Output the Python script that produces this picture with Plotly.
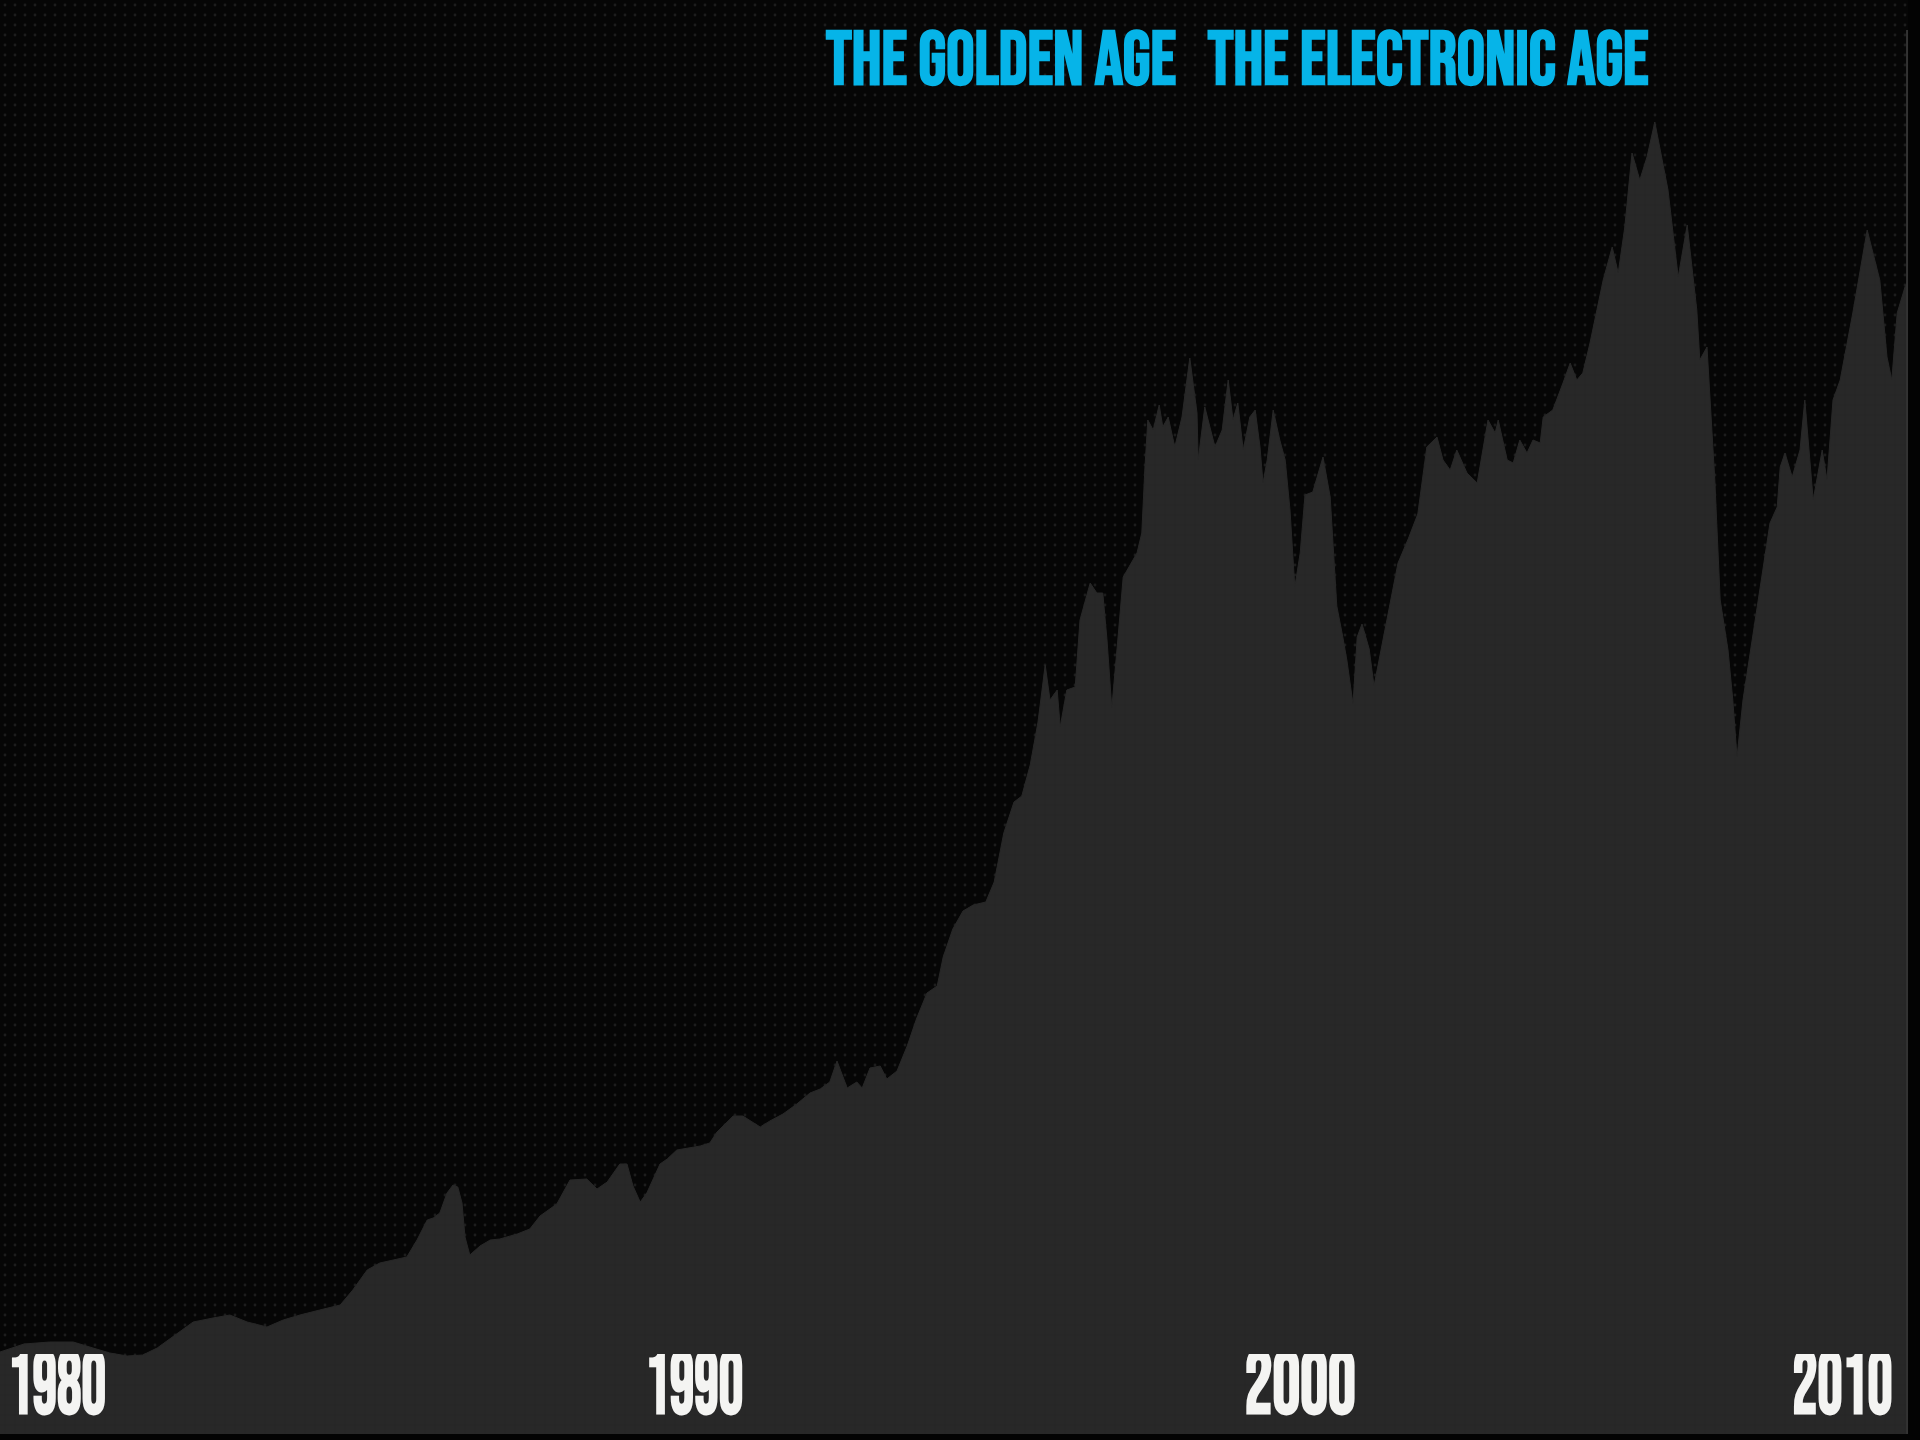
import plotly.graph_objects as go

# Index level (points), roughly monthly-to-quarterly samples
years = [
    1980.00, 1980.40, 1980.83, 1981.22, 1981.55, 1981.83, 1982.12, 1982.38, 1982.62, 1982.88,
    1983.22, 1983.55, 1983.83, 1984.12, 1984.45, 1984.72, 1985.00, 1985.33, 1985.67, 1985.88,
    1986.12, 1986.33, 1986.55, 1986.78, 1986.95, 1987.12, 1987.22, 1987.33, 1987.45, 1987.55,
    1987.63, 1987.70, 1987.75, 1987.83, 1988.00, 1988.17, 1988.33, 1988.62, 1988.83, 1989.00,
    1989.28, 1989.50, 1989.78, 1989.95, 1990.12, 1990.33, 1990.45, 1990.55, 1990.67, 1990.78,
    1991.00, 1991.12, 1991.28, 1991.45, 1991.67, 1991.83, 1991.95, 1992.22, 1992.38, 1992.67,
    1992.83, 1993.05, 1993.28, 1993.50, 1993.67, 1993.83, 1993.95, 1994.12, 1994.28, 1994.37,
    1994.50, 1994.67, 1994.78, 1994.95, 1995.12, 1995.28, 1995.45, 1995.62, 1995.72, 1995.88,
    1996.05, 1996.22, 1996.43, 1996.57, 1996.73, 1996.90, 1997.03, 1997.17, 1997.30, 1997.42,
    1997.50, 1997.62, 1997.67, 1997.78, 1997.92, 1998.00, 1998.17, 1998.28, 1998.38, 1998.45,
    1998.53, 1998.63, 1998.72, 1998.95, 1999.03, 1999.08, 1999.13, 1999.22, 1999.32, 1999.38,
    1999.47, 1999.58, 1999.70, 1999.83, 1999.95, 1999.97, 2000.08, 2000.25, 2000.37, 2000.47,
    2000.55, 2000.63, 2000.72, 2000.83, 2000.92, 2001.00, 2001.05, 2001.12, 2001.22, 2001.33,
    2001.42, 2001.50, 2001.58, 2001.67, 2001.75, 2001.88, 2002.05, 2002.17, 2002.28, 2002.38,
    2002.45, 2002.55, 2002.62, 2002.70, 2002.82, 2002.90, 2003.02, 2003.17, 2003.30, 2003.47,
    2003.63, 2003.78, 2003.95, 2004.05, 2004.17, 2004.28, 2004.45, 2004.62, 2004.72, 2004.80,
    2004.92, 2004.97, 2005.12, 2005.22, 2005.33, 2005.45, 2005.55, 2005.67, 2005.72, 2005.88,
    2006.05, 2006.17, 2006.28, 2006.38, 2006.50, 2006.62, 2006.72, 2006.87, 2006.97, 2007.08,
    2007.20, 2007.33, 2007.45, 2007.58, 2007.70, 2007.80, 2007.97, 2008.12, 2008.28, 2008.33,
    2008.45, 2008.58, 2008.67, 2008.80, 2008.88, 2008.95, 2009.05, 2009.22, 2009.33, 2009.50,
    2009.62, 2009.67, 2009.75, 2009.87, 2010.00, 2010.08, 2010.22, 2010.37, 2010.45, 2010.55,
    2010.67, 2010.88, 2011.12, 2011.33, 2011.45, 2011.53, 2011.62, 2011.75, 2011.80,
]

index_level = [
    820, 900, 920, 920, 860, 810, 780, 790, 860, 970,
    1120, 1160, 1190, 1120, 1070, 1140, 1190, 1240, 1290, 1440,
    1640, 1710, 1740, 1770, 1940, 2140, 2160, 2210, 2410, 2490,
    2470, 2310, 1970, 1790, 1880, 1940, 1950, 2000, 2050, 2180,
    2300, 2540, 2550, 2450, 2520, 2700, 2700, 2480, 2320, 2410,
    2700, 2750, 2840, 2860, 2880, 2910, 3020, 3180, 3180, 3070,
    3130, 3200, 3300, 3410, 3450, 3520, 3730, 3460, 3520, 3460,
    3660, 3680, 3550, 3630, 3880, 4160, 4410, 4480, 4770, 5050,
    5230, 5290, 5320, 5520, 6010, 6320, 6380, 6690, 7120, 7690,
    7340, 7440, 7070, 7440, 7470, 8140, 8510, 8410, 8410, 7940,
    7260, 7940, 8570, 8810, 9010, 9640, 10140, 10040, 10290, 10070,
    10170, 9870, 10170, 10760, 10210, 9740, 10270, 9870, 10040, 10540,
    10140, 10310, 9840, 10170, 10240, 9870, 9510, 9740, 10240, 9940,
    9740, 9240, 8470, 8810, 9390, 9420, 9770, 9370, 8280, 7970,
    7730, 7300, 7970, 8100, 7850, 7480, 7850, 8340, 8710, 8950,
    9200, 9870, 9970, 9740, 9640, 9840, 9610, 9510, 9840, 10140,
    10010, 10140, 9740, 9710, 9940, 9810, 9940, 9910, 10170, 10240,
    10510, 10710, 10540, 10610, 10910, 11270, 11540, 11870, 11610, 12070,
    12810, 12540, 12770, 13120, 12740, 12440, 11570, 12090, 11240, 10740,
    10870, 9540, 8340, 7840, 7340, 6770, 7340, 8010, 8440, 9110,
    9270, 9670, 9810, 9570, 9840, 10340, 9340, 9840, 9540, 10340,
    10540, 11210, 12040, 11540, 10770, 10540, 11210, 11470, 11540,
]

decade_labels = ["1980", "1990", "2000", "2010"]
era_labels = ["THE GOLDEN AGE", "THE ELECTRONIC AGE"]

X_RANGE = [1980.0, 2011.8]
Y_RANGE = [0, 14340]

# label placement (paper coords, anchor) and condensed widths (px) - style only
decade_pos = [(0.003, "left"), (0.3637, "center"), (0.6813, "center"), (0.9925, "right")]
era_pos = [0.5246, 0.7482]
label_widths = {"1980": 98, "1990": 98, "2000": 111, "2010": 100,
                "THE GOLDEN AGE": 350, "THE ELECTRONIC AGE": 441}

FONT = "'Bebas Neue', Oswald, 'Liberation Sans Narrow', 'Arial Narrow', 'Liberation Sans', Arial, sans-serif"

fig = go.Figure()

# dotted backdrop
fig.add_trace(go.Scatter(
    x=X_RANGE, y=[Y_RANGE[1], Y_RANGE[1]], mode="lines", fill="tozeroy",
    line=dict(width=0, color="#060606"), fillcolor="#060606",
    fillpattern=dict(shape=".", size=10, solidity=0.06, fgcolor="#1d1d1d",
                     bgcolor="#060606", fillmode="replace"),
    hoverinfo="skip", showlegend=False,
))

# index area
fig.add_trace(go.Scatter(
    x=years, y=index_level, mode="lines", fill="tozeroy",
    line=dict(width=1, color="#272727"), fillcolor="#272727",
    fillpattern=dict(shape="+", size=10, solidity=0.08, fgcolor="#222222",
                     bgcolor="#282828", fillmode="replace"),
    hoverinfo="skip", showlegend=False,
))

annotations = []
for lab, (px, anchor) in zip(decade_labels, decade_pos):
    annotations.append(dict(
        text=lab, x=px, y=0, xref="paper", yref="paper",
        xanchor=anchor, align=anchor, yanchor="bottom", valign="middle",
        height=64, yshift=14, showarrow=False,
        font=dict(family=FONT, size=89, color="#f4f4f2", weight="bold"),
    ))
for lab, px in zip(era_labels, era_pos):
    annotations.append(dict(
        text=lab, x=px, y=0.9568, xref="paper", yref="paper",
        xanchor="center", yanchor="middle", showarrow=False,
        font=dict(family=FONT, size=76, color="#06b4e8", weight="bold"),
    ))

fig.update_layout(
    width=1920, height=1440,
    margin=dict(l=0, r=12, t=0, b=6),
    paper_bgcolor="#030303", plot_bgcolor="#060606",
    xaxis=dict(range=X_RANGE, visible=False, fixedrange=True),
    yaxis=dict(range=Y_RANGE, visible=False, fixedrange=True),
    annotations=annotations,
    shapes=[dict(type="line", xref="paper", yref="paper", x0=0.9995, x1=0.9995,
                 y0=0, y1=0.979, line=dict(color="#333333", width=2))],
    showlegend=False,
)

post = """
document.documentElement.style.margin = '0';
document.documentElement.style.background = '#030303';
document.body.style.margin = '0';
document.body.style.padding = '0';
document.body.style.background = '#030303';
document.body.style.overflow = 'hidden';
var gd = document.getElementById('{plot_id}');
var W = %s;
function condense(){
  gd.querySelectorAll('text.annotation-text').forEach(function(t){
    var w = W[t.textContent.trim()];
    if (!w) return;
    if (t.getAttribute('data-base') === null) {
      t.setAttribute('data-base', t.getAttribute('transform') || '');
    }
    var base = t.getAttribute('data-base');
    var nat = t.getComputedTextLength();
    if (!nat) return;
    var sx = w / nat;
    var ax = parseFloat(t.getAttribute('x')) || 0;
    t.setAttribute('transform', base + ' translate(' + ax + ',0) scale(' + sx + ',1) translate(' + (-ax) + ',0)');
  });
}
condense();
gd.on('plotly_afterplot', condense);
setTimeout(condense, 50);
""" % (str(label_widths).replace("'", '"'))

fig.write_html("out.html", post_script=post, config={"displayModeBar": False})
